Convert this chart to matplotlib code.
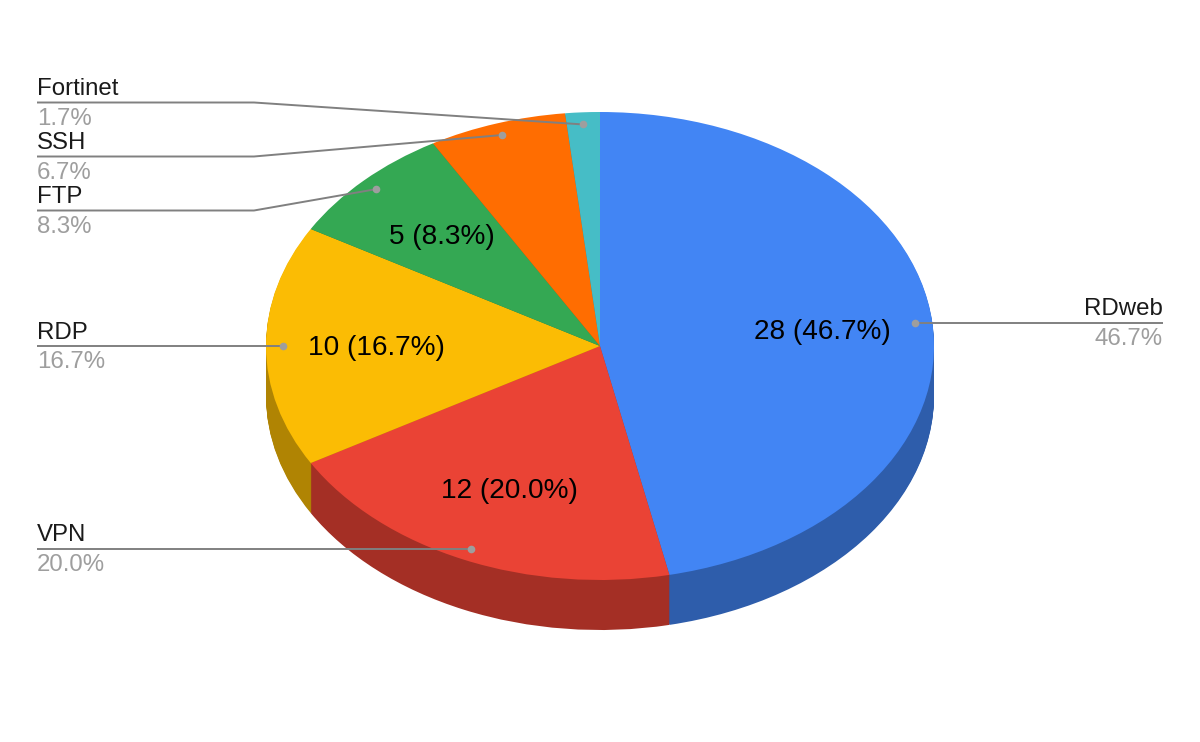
import numpy as np
import matplotlib
matplotlib.use('Agg')
import matplotlib.pyplot as plt
from matplotlib.colors import to_rgb

plt.rcParams['font.family'] = ['Liberation Sans', 'DejaVu Sans']

# valores, sentido horario a partir do topo
labels = ['RDweb', 'VPN', 'RDP', 'FTP', 'SSH', 'Fortinet']
values = [28, 12, 10, 5, 4, 1]
colors = ['#4285F4', '#EA4335', '#FBBC04', '#34A853', '#FF6D01', '#46BDC6']

W, H = 1200, 742
CX, CY = 600, 346
RX, RY = 334, 234
DEPTH = 50
DOT_R = 0.948
LABEL_R = 0.67

# posicao das legendas em pixels: y da linha
leader_y = {'RDweb': 322.7, 'VPN': 548.5, 'RDP': 346, 'FTP': 210.5, 'SSH': 156.5, 'Fortinet': 102.5}
ELBOW_X = 254
LEFT_X = 37
RIGHT_X = 1163
LINE_COLOR = '#808080'
DOT_COLOR = '#9E9E9E'
PCT_COLOR = '#9E9E9E'
TEXT_COLOR = '#1A1A1A'


def px(x, y):
    return (x - CX) / RX, (CY - y) / RY


def autopct(pct):
    if pct < 8:
        return ''
    return '%d (%.1f%%)' % (round(pct * sum(values) / 100), pct)


fig = plt.figure(figsize=(W / 100, H / 100), dpi=100)
ax = fig.add_axes([0, 0, 1, 1])

# lateral: varias pizzas escuras empilhadas
dark = [tuple(c * 0.7 for c in to_rgb(col)) for col in colors]
for d in range(DEPTH, 0, -1):
    ax.pie(values, colors=dark, startangle=90, counterclock=False, radius=1,
           center=(0, -d / RY), wedgeprops={'linewidth': 0})

# topo
_, _, pct_texts = ax.pie(values, colors=colors, startangle=90, counterclock=False, radius=1,
                         center=(0, 0), autopct=autopct, pctdistance=LABEL_R,
                         wedgeprops={'linewidth': 0},
                         textprops={'fontsize': 20.16, 'color': 'black'})
for t in pct_texts:
    t.set_va('center_baseline')
    tx0, ty0 = t.get_position()
    t.set_position((tx0, ty0 + 1 / RY))

ax.set_aspect('auto')
ax.set_xlim(-CX / RX, (W - CX) / RX)
ax.set_ylim((CY - H) / RY, CY / RY)
ax.axis('off')

# linhas de chamada
total = sum(values)
acc = 0
for name, val in zip(labels, values):
    mid = (acc + val / 2) / total * 2 * np.pi
    acc += val
    dx, dy = DOT_R * np.sin(mid), DOT_R * np.cos(mid)
    y_line = leader_y[name]
    pct = '%.1f%%' % (val / total * 100)
    _, yl = px(0, y_line)
    if name == 'RDweb':
        xs = [dx, px(RIGHT_X, 0)[0]]
        ys = [yl, yl]
        tx, ha = RIGHT_X, 'right'
    else:
        elbow = ELBOW_X if abs(dy - yl) * RY > 3 else CX + dx * RX
        xs = [px(LEFT_X, 0)[0], px(elbow, 0)[0], dx]
        ys = [yl, yl, dy]
        tx, ha = LEFT_X, 'left'
    ax.plot(xs, ys, color=LINE_COLOR, lw=1.4, solid_capstyle='butt', zorder=5)
    ax.plot([dx], [dy], 'o', color=DOT_COLOR, ms=5.5, mew=0, zorder=6)
    ax.text(*px(tx, y_line - 7.5), name, ha=ha, va='baseline', fontsize=17.28, color=TEXT_COLOR)
    ax.text(*px(tx, y_line + 22), pct, ha=ha, va='baseline', fontsize=17.28, color=PCT_COLOR)

fig.savefig('out.png', dpi=100, facecolor='white')
